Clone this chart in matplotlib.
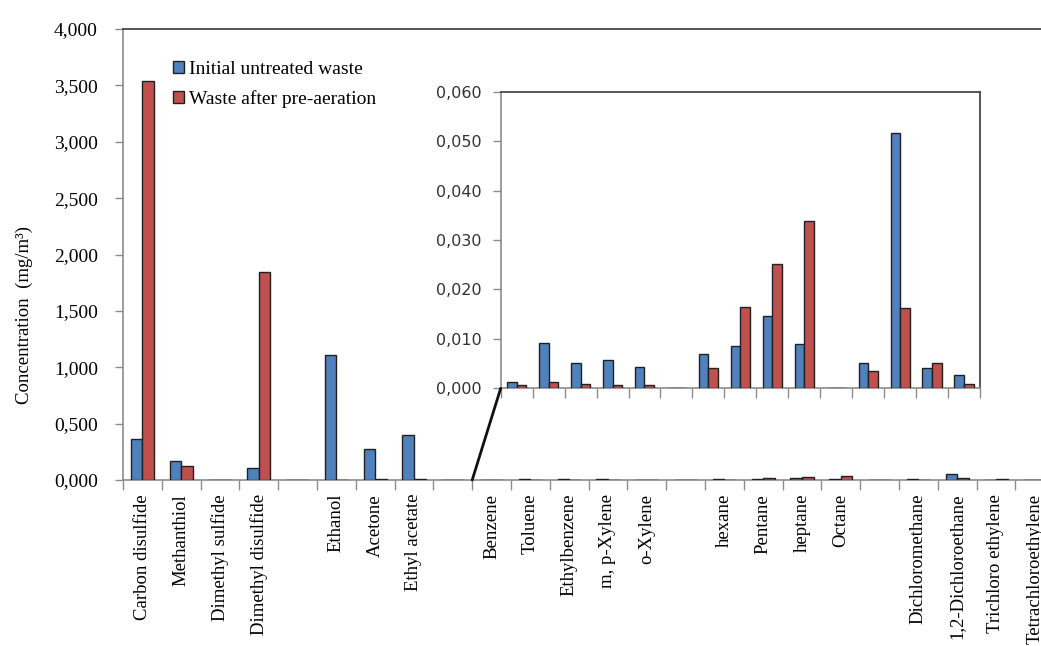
import matplotlib
matplotlib.use("Agg")
import matplotlib.pyplot as plt
from matplotlib.patches import ConnectionPatch, Patch
from matplotlib.ticker import FuncFormatter, FixedLocator, MultipleLocator
import numpy as np

# -- Data (mg/m3) ------------------------------------------------------------

compounds = [
    "Carbon disulfide", "Methanthiol", "Dimethyl sulfide", "Dimethyl disulfide", "",
    "Ethanol", "Acetone", "Ethyl acetate", "",
    "Benzene", "Toluene", "Ethylbenzene", "m, p-Xylene", "o-Xylene", "",
    "hexane", "Pentane", "heptane", "Octane", "",
    "Dichloromethane", "1,2-Dichloroethane", "Trichloro ethylene", "Tetrachloroethylene",
]
initial_waste = [
    0.364, 0.171, 0.004, 0.106, 0.0,
    1.109, 0.275, 0.399, 0.0,
    0.00135, 0.0092, 0.0052, 0.0057, 0.0044, 0.0,
    0.0069, 0.0086, 0.0147, 0.0090, 0.0,
    0.0052, 0.0516, 0.0042, 0.0026,
]
after_aeration = [
    3.535, 0.127, 0.004, 1.848, 0.0,
    0.0, 0.010, 0.010, 0.0,
    0.0006, 0.00135, 0.0009, 0.0006, 0.0006, 0.0,
    0.0042, 0.01645, 0.0252, 0.0339, 0.0,
    0.0034, 0.01625, 0.0052, 0.0009,
]
series_labels = ["Initial untreated waste", "Waste after pre-aeration"]

# compounds shown again in the zoomed panel (Benzene onwards)
ZOOM_START = 9

BLUE = "#4F81BD"
RED = "#C0504D"
EDGE = "#202020"
AXIS_GRAY = "#8C8C8C"
BORDER = "#3A3A3A"
SERIF = "Liberation Serif"
W, H = 1041, 646


def comma_fmt(decimals):
    return FuncFormatter(lambda v, _: f"{v:.{decimals}f}".replace(".", ","))


def draw_bars(ax):
    x = np.arange(len(compounds))
    ax.bar(x - 0.15, initial_waste, 0.3, color=BLUE, edgecolor=EDGE, linewidth=1.0, zorder=3)
    ax.bar(x + 0.15, after_aeration, 0.3, color=RED, edgecolor=EDGE, linewidth=1.0, zorder=3)


def style_frame(ax, ypad):
    ax.spines["left"].set_color(AXIS_GRAY)
    ax.spines["bottom"].set_color(AXIS_GRAY)
    ax.spines["top"].set_color(BORDER)
    ax.spines["right"].set_color(BORDER)
    for s in ax.spines.values():
        s.set_linewidth(1.2)
    ax.tick_params(axis="y", which="major", direction="out", length=6,
                   color=AXIS_GRAY, width=1.0, pad=ypad)
    ax.tick_params(axis="x", which="minor", direction="out", length=7, color=AXIS_GRAY, width=1.0)
    ax.tick_params(axis="x", which="major", length=0)


fig = plt.figure(figsize=(W / 100, H / 100), dpi=100)

# -- Main axes ---------------------------------------------------------------
cat_w = 38.8
ax = fig.add_axes([123 / W, 1 - 480 / H, len(compounds) * cat_w / W, 451 / H])
draw_bars(ax)
ax.set_xlim(-0.5, len(compounds) - 0.5)
ax.set_ylim(0, 4)
ax.yaxis.set_major_locator(MultipleLocator(0.5))
ax.yaxis.set_major_formatter(comma_fmt(3))
ax.set_xticks(np.arange(len(compounds)))
ax.set_xticklabels(compounds, rotation=90, fontfamily=SERIF, fontsize=13.5)
ax.xaxis.set_minor_locator(FixedLocator(np.arange(-0.5, len(compounds), 1.0)))
style_frame(ax, ypad=12)
ax.tick_params(axis="x", which="major", pad=10)
for lbl in ax.get_yticklabels():
    lbl.set_fontfamily(SERIF)
    lbl.set_fontsize(14)
ax.set_ylabel("Concentration  (mg/m³)", fontfamily=SERIF, fontsize=13.5)
ax.yaxis.set_label_coords(-0.097, 0.366)

handles = [Patch(facecolor=BLUE, edgecolor=EDGE, linewidth=1.0),
           Patch(facecolor=RED, edgecolor=EDGE, linewidth=1.0)]
fig.legend(handles, series_labels, loc="upper left",
           bbox_to_anchor=(173 / W, 1 - 61 / H), frameon=False,
           prop={"family": SERIF, "size": 14},
           handlelength=0.55, handleheight=0.55, handletextpad=0.25,
           labelspacing=0.6, borderpad=0, borderaxespad=0)

# -- Zoomed panel for the low-concentration compounds -----------------------
ins = fig.add_axes([500.7 / W, 1 - 388.3 / H, 479.3 / W, 296.6 / H])
draw_bars(ins)
ins.set_xlim(ZOOM_START - 0.5, len(compounds) - 0.5)
ins.set_ylim(0, 0.06)
ins.yaxis.set_major_locator(MultipleLocator(0.01))
ins.yaxis.set_major_formatter(comma_fmt(3))
ins.set_xticks([])
ins.xaxis.set_minor_locator(FixedLocator(np.arange(ZOOM_START - 0.5, len(compounds), 1.0)))
style_frame(ins, ypad=8)
for lbl in ins.get_yticklabels():
    lbl.set_fontfamily("DejaVu Sans")
    lbl.set_fontsize(11.5)
    lbl.set_color("#333333")

con = ConnectionPatch(xyA=(ZOOM_START - 0.5, 0), coordsA=ax.transData,
                      xyB=(ZOOM_START - 0.5, 0), coordsB=ins.transData,
                      color="#111111", linewidth=2.0, zorder=5)
fig.add_artist(con)

fig.savefig("out.png", dpi=100)
